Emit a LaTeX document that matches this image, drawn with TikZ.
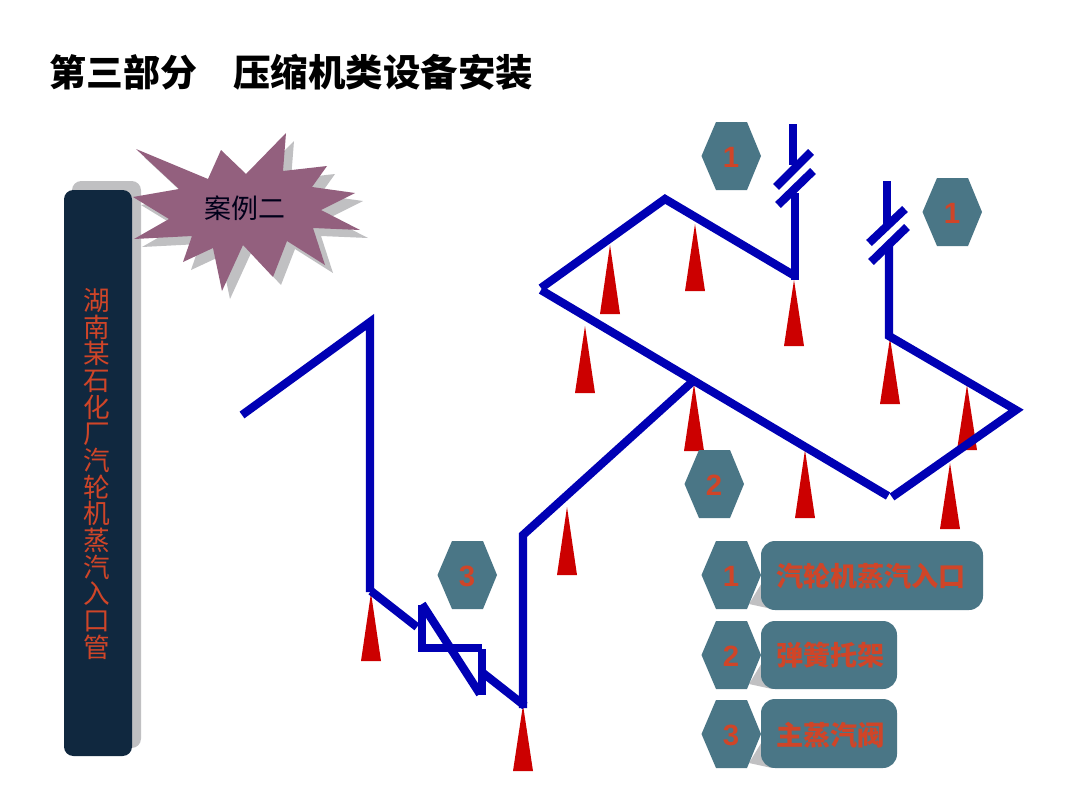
\documentclass[tikz,border=0pt]{standalone}
\usepackage{fontspec}
\setmainfont{Liberation Sans}
\newfontfamily\cjk{Noto Sans CJK SC}
\definecolor{pipeblue}{HTML}{0000B4}
\definecolor{hexteal}{HTML}{4A7686}
\definecolor{textred}{HTML}{CF4528}
\definecolor{barnavy}{HTML}{10283F}
\definecolor{starmauve}{HTML}{93607E}
\definecolor{shadowgray}{HTML}{C0C0C2}
\definecolor{conered}{HTML}{CC0000}
\newcommand{\pxsize}[1]{\fontsize{#1}{#1}\selectfont}
\tikzset{
  x=0.75pt,y=-0.75pt,
  pipe/.style={draw=pipeblue,line width=6.2pt,line cap=butt,line join=miter},
  hexfill/.style={fill=hexteal,draw=none},
  hexnum/.style={text=textred,font=\pxsize{22}\bfseries},
  legendbox/.style={fill=hexteal,draw=none,rounded corners=10.5pt},
  legendtext/.style={text=textred,font=\cjk\pxsize{20.3}\bfseries,anchor=west,inner sep=0pt},
  cone/.style={fill=conered,draw=none},
}
\newcommand{\hexat}[4]{% name, x, y, label
  \fill[hexfill] (#2-29.5,#3) -- (#2-15,#3-34) -- (#2+16,#3-34) -- (#2+30,#3) -- (#2+16,#3+34) -- (#2-15,#3+34) -- cycle;
  \node[hexnum] (#1) at (#2,#3+1) {#4};
}
\newcommand{\coneat}[3]{% apex x, apex y, base y
  \fill[cone] (#1,#2) -- (#1+10,#3) -- (#1-10,#3) -- cycle;
}
\begin{document}
\begin{tikzpicture}
\useasboundingbox (0,0) rectangle (1080,810);
\fill[white] (0,0) rectangle (1080,810);

% title
\node[anchor=west,inner sep=0pt,font=\cjk\bfseries\pxsize{27.7}] (title) at (49,72) {第三部分};
\node[anchor=west,inner sep=0pt,font=\cjk\bfseries\pxsize{28.1}] (title2) at (233,72) {压缩机类设备安装};

% left bar
\fill[shadowgray,rounded corners=7pt] (72,181) rectangle (141,748);
\fill[barnavy,rounded corners=7pt] (64,190) rectangle (132,756);
\node[text=textred,font=\cjk\pxsize{20},align=center,inner sep=0pt] (bar) at (97,474) {%
\baselineskip=20.7pt 湖\\南\\某\\石\\化\\厂\\汽\\轮\\机\\蒸\\汽\\入\\口\\管};

% star
\def\starpath{(136,149) -- (208,179) -- (221,150) -- (246,174) -- (286,133) -- (283,171) -- (327,166) -- (312,187) -- (355,193) -- (321,210) -- (360,230) -- (313,228) -- (325,265) -- (287,241) -- (273,277) -- (243,245) -- (222,291) -- (213,248) -- (183,262) -- (192,236) -- (134,239) -- (169,219) -- (133,197) -- (179,189) -- cycle}
\fill[shadowgray,shift={(8,8)}] \starpath;
\fill[starmauve] \starpath;
\node[font=\cjk\pxsize{20.2},text=black!90!blue,inner sep=0pt] (case) at (245,208) {案例二};

% supports
\coneat{371}{593}{661}
\coneat{523}{705}{771}
\coneat{567}{507}{575}
\coneat{585}{326}{393}
\coneat{610}{245}{314}
\coneat{695}{224}{291}
\coneat{794}{280}{346}
\coneat{694}{384}{451}
\coneat{890}{338}{404}
\coneat{967}{385}{450}
\coneat{805}{450}{518}
\coneat{950}{463}{529}

% pipes
\draw[pipe] (242,415) -- (370,322) -- (370,592);
\draw[pipe] (371,591) -- (417,627);
\draw[pipe] (422,605) -- (422,648) -- (482,648);
\draw[pipe] (482,649) -- (482,695);
\draw[pipe] (422,604) -- (480,694);
\draw[pipe] (483,673) -- (525,706);
\draw[pipe] (523,708) -- (523,535) -- (692,382);
\draw[pipe] (541,290) -- (888,496);
\draw[pipe] (541,288) -- (665,199) -- (795,276);
\draw[pipe] (795,280) -- (795,193);
\draw[pipe] (793,124) -- (793,165);
\draw[pipe] (776,187) -- (811,152);
\draw[pipe] (778,205) -- (813,171);
\draw[pipe] (887,181) -- (887,225);
\draw[pipe] (869,243) -- (905,209);
\draw[pipe] (871,262) -- (907,227);
\draw[pipe] (889,245) -- (889,336) -- (1016,410) -- (892,497);

% floating hexagons
\hexat{h1a}{731}{156}{1}
\hexat{h1b}{952}{212}{1}
\hexat{h2a}{714}{484}{2}
\hexat{h3a}{467}{575}{3}

% legend
\foreach \y in {575,655,734}
  \fill[shadowgray] (749,\y+29) -- (763,\y+6) -- (772,\y+34) -- cycle;
\hexat{l1}{731}{575}{1}
\hexat{l2}{731}{655}{2}
\hexat{l3}{731}{734}{3}
\fill[legendbox] (761,541) rectangle (983,610);
\fill[legendbox] (761,621) rectangle (897,689);
\fill[legendbox] (761,699) rectangle (897,768);
\node[legendtext] (t1) at (776,576) {汽轮机蒸汽入口};
\node[legendtext] (t2) at (776,655) {弹簧托架};
\node[legendtext] (t3) at (776,735) {主蒸汽阀};
\end{tikzpicture}
\end{document}
